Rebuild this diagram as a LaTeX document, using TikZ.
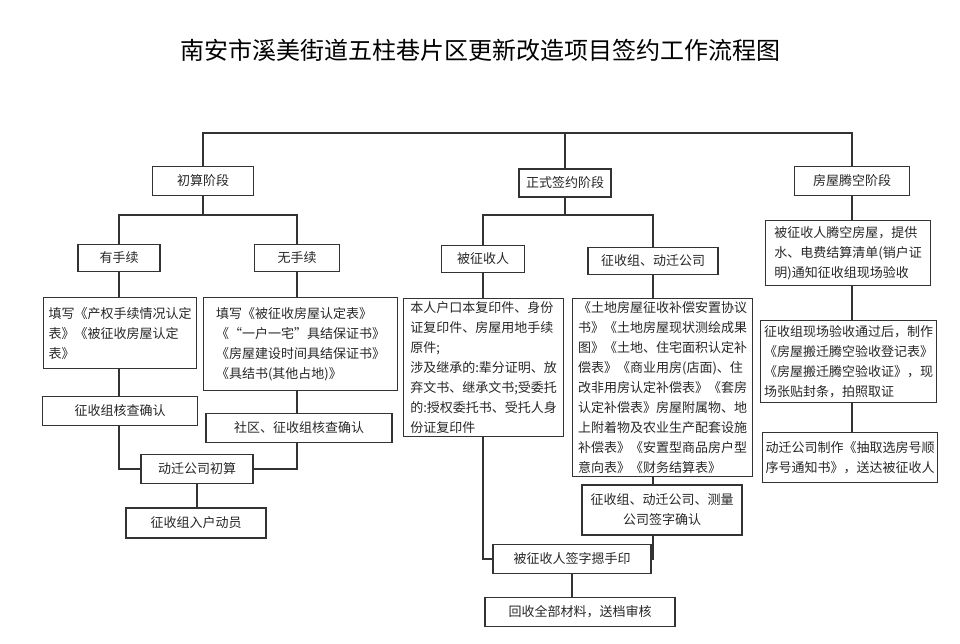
\documentclass[tikz,border=0pt]{standalone}
\usepackage{fontspec}
\setmainfont{Noto Sans CJK SC}
\begin{document}
\begin{tikzpicture}[x=1pt,y=-1pt,
  bx/.style={draw=black!80,line width=1.2pt,inner sep=3pt,font=\fontsize{13}{20}\selectfont,text=black!85},
  tx/.style={bx,align=left,anchor=north west},
  ln/.style={draw=black!80,line width=1.2pt}]
\useasboundingbox (0,0) rectangle (960,644);
\node[font=\fontsize{24}{28}\selectfont] (title) at (480,50) {南安市溪美街道五柱巷片区更新改造项目签约工作流程图};
% stages
\node[bx,minimum width=101,minimum height=29] (s1) at (203,181) {初算阶段};
\node[bx,minimum width=92,minimum height=28] (s2) at (565,183) {正式签约阶段};
\node[bx,minimum width=115,minimum height=29] (s3) at (852,181) {房屋腾空阶段};
\coordinate (top) at (560,133);
\draw[ln] (s1.north) -- (s1.north|-top) -- (s3.north|-top) -- (s3.north);
\draw[ln] (s2.north) -- (s2.north|-top);
% level 2
\node[bx,minimum width=82,minimum height=27] (y) at (119,258) {有手续};
\node[bx,minimum width=85,minimum height=27] (w) at (297,258) {无手续};
\node[bx,minimum width=83,minimum height=27] (p) at (483,259) {被征收人};
\node[bx,minimum width=130,minimum height=27] (g) at (653,261) {征收组、动迁公司};
\coordinate (b1) at (203,215);
\coordinate (b2) at (565,215);
\draw[ln] (s1.south) -- (b1);
\draw[ln] (y.north) -- (y.north|-b1) -- (w.north|-b1) -- (w.north);
\draw[ln] (s2.south) -- (b2);
\draw[ln] (p.north) -- (p.north|-b2) -- (g.north|-b2) -- (g.north);
% detail boxes
\node[tx,minimum width=153,minimum height=71] (yd) at (43,297) {填写《产权手续情况认定\\表》《被征收房屋认定\\表》};
\node[tx,minimum width=194,minimum height=93] (wd) at (203,297) {填写《被征收房屋认定表》\\《“一户一宅”具结保证书》\\《房屋建设时间具结保证书》\\《具结书(其他占地)》};
\node[tx,minimum width=160,minimum height=134] (pd) at (403,298) {本人户口本复印件、身份\\证复印件、房屋用地手续\\原件;\\涉及继承的:辈分证明、放\\弃文书、继承文书;受委托\\的:授权委托书、受托人身\\份证复印件};
\node[tx,minimum width=180,minimum height=170] (gd) at (572,298) {《土地房屋征收补偿安置协议\\书》《土地房屋现状测绘成果\\图》《土地、住宅面积认定补\\偿表》《商业用房(店面)、住\\改非用房认定补偿表》《套房\\认定补偿表》房屋附属物、地\\上附着物及农业生产配套设施\\补偿表》《安置型商品房户型\\意向表》《财务结算表》};
\draw[ln] (y.south) -- (y.south|-yd.north);
\draw[ln] (w.south) -- (w.south|-wd.north);
\draw[ln] (p.south) -- (p.south|-pd.north);
\draw[ln] (g.south) -- (g.south|-gd.north);
% right column
\node[tx,minimum width=165,minimum height=65] (r1) at (765,220) {被征收人腾空房屋，提供\\水、电费结算清单(销户证\\明)通知征收组现场验收};
\node[tx,minimum width=176,minimum height=82] (r2) at (760,320) {征收组现场验收通过后，制作\\《房屋搬迁腾空验收登记表》\\《房屋搬迁腾空验收证》，现\\场张贴封条，拍照取证};
\node[tx,minimum width=173,minimum height=50] (r3) at (762,432) {动迁公司制作《抽取选房号顺\\序号通知书》，送达被征收人};
\draw[ln] (s3.south) -- (s3.south|-r1.north);
\draw[ln] (s3.south|-r1.south) -- (s3.south|-r2.north);
\draw[ln] (s3.south|-r2.south) -- (s3.south|-r3.north);
% left bottom
\node[bx,minimum width=155,minimum height=29] (hc) at (120,411) {征收组核查确认};
\node[bx,minimum width=186,minimum height=29] (sq) at (299,428) {社区、征收组核查确认};
\node[bx,minimum width=112,minimum height=29] (cs) at (197,469) {动迁公司初算};
\node[bx,minimum width=140,minimum height=30] (rh) at (196,523) {征收组入户动员};
\draw[ln] (y.south|-yd.south) -- (y.south|-hc.north);
\draw[ln] (w.south|-wd.south) -- (w.south|-sq.north);
\draw[ln] (y.south|-hc.south) |- (cs.west);
\draw[ln] (w.south|-sq.south) |- (cs.east);
\draw[ln] (cs.south) -- (cs.south|-rh.north);
% center bottom
\node[bx,align=center,minimum width=160,minimum height=50] (cl) at (662,510) {征收组、动迁公司、测量\\公司签字确认};
\node[bx,minimum width=158,minimum height=29] (sg) at (572,559) {被征收人签字摁手印};
\node[bx,minimum width=190,minimum height=29] (hs) at (580,612) {回收全部材料，送档审核};
\draw[ln] (g.south|-gd.south) -- (g.south|-cl.north);
\draw[ln] (p.south|-pd.south) |- (sg.west);
\draw[ln] (g.south|-cl.south) |- (sg.east);
\draw[ln] (sg.south) -- (sg.south|-hs.north);
\end{tikzpicture}
\end{document}
